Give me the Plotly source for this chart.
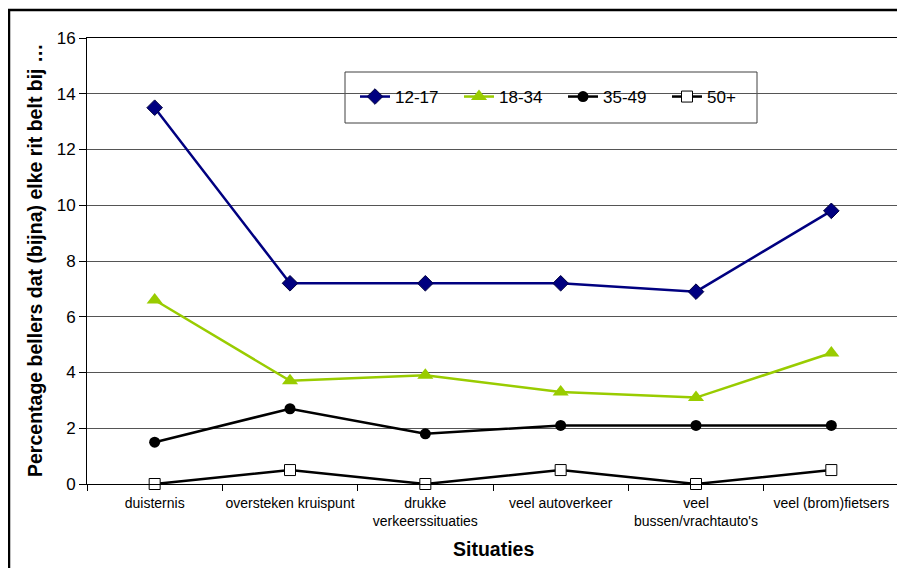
import plotly.graph_objects as go

categories = ["duisternis", "oversteken kruispunt", "drukke<br>verkeerssituaties",
              "veel autoverkeer", "veel<br>bussen/vrachtauto's", "veel (brom)fietsers"]
s_12_17 = [13.5, 7.2, 7.2, 7.2, 6.9, 9.8]
s_18_34 = [6.6, 3.7, 3.9, 3.3, 3.1, 4.7]
s_35_49 = [1.5, 2.7, 1.8, 2.1, 2.1, 2.1]
s_50p = [0.0, 0.5, 0.0, 0.5, 0.0, 0.5]
y_ticks = [0, 2, 4, 6, 8, 10, 12, 14, 16]

FONT = "Liberation Sans, Arial, sans-serif"
OFF = 8  # page body margin
W, H = 905 - OFF, 568 - OFF
# plot area in page pixels: x 87..899, y 38..484
PL, PR, PT, PB = 87, 899, 38, 484
L, T = PL - OFF, PT - OFF
R, B = W - (PR - OFF), H - (PB - OFF)
PW, PH = PR - PL, PB - PT

def px(xp):
    return (xp - PL) / PW

def py(yp):
    return (PB - yp) / PH

fig = go.Figure()
series = [
    ("12-17", s_12_17, "#000080", dict(symbol="diamond", size=12, color="#000080", line=dict(color="#000040", width=1))),
    ("18-34", s_18_34, "#99CC00", dict(symbol="triangle-up", size=14, color="#99CC00", line=dict(color="#99CC00", width=0))),
    ("35-49", s_35_49, "#000000", dict(symbol="circle", size=11, color="#000000")),
    ("50+", s_50p, "#000000", dict(symbol="square", size=11, color="#FFFFFF", line=dict(color="#000000", width=1))),
]
for name, vals, col, mk in series:
    fig.add_trace(go.Scatter(x=categories, y=vals, name=name, mode="lines+markers",
                             line=dict(color=col, width=2.5), marker=mk, cliponaxis=False))

fig.update_layout(
    width=W, height=H,
    margin=dict(l=L, r=R, t=T, b=B, pad=0, autoexpand=False),
    paper_bgcolor="white", plot_bgcolor="white",
    font=dict(family=FONT, color="black"),
    showlegend=True,
    legend=dict(orientation="h", x=px(355), y=py(97), xanchor="left", yanchor="middle",
                bgcolor="rgba(0,0,0,0)", borderwidth=0, font=dict(size=17, family=FONT),
                entrywidth=59, entrywidthmode="pixels", itemclick=False),
    shapes=[
        dict(type="rect", xref="paper", yref="paper", x0=px(345), x1=px(757), y0=py(123), y1=py(72),
             fillcolor="white", line=dict(color="#404040", width=1), layer="between"),
        dict(type="rect", xref="paper", yref="paper", x0=px(9), x1=px(930), y0=py(600), y1=py(10),
             fillcolor="rgba(0,0,0,0)", line=dict(color="black", width=2.5), layer="above"),
    ],
    annotations=[
        dict(text="<b>Percentage bellers dat (bijna) elke rit belt bij …</b>", textangle=-90,
             xref="paper", yref="paper", x=px(35), y=py(261), xanchor="center", yanchor="middle",
             showarrow=False, font=dict(size=19.5, family=FONT)),
        dict(text="<b>Situaties</b>", xref="paper", yref="paper", x=px(493), y=py(549),
             xanchor="center", yanchor="middle", showarrow=False, font=dict(size=19.5, family=FONT)),
    ],
)
fig.update_xaxes(type="category", range=[-0.5, 5.5], showgrid=False, showline=True,
                 linecolor="black", linewidth=1, mirror=True, ticks="outside", tickson="boundaries",
                 ticklen=6, tickcolor="black", tickfont=dict(size=14, family=FONT), ticklabelstandoff=6,
                 tickangle=0, automargin=False)
fig.update_yaxes(range=[0, 16], tickvals=y_ticks, showgrid=True, gridcolor="#555555", gridwidth=1,
                 showline=True, linecolor="black", linewidth=1, mirror=True, ticks="outside",
                 ticklen=7, tickcolor="black", tickfont=dict(size=17, family=FONT), zeroline=False,
                 automargin=False)

fig.write_html("out.html")
